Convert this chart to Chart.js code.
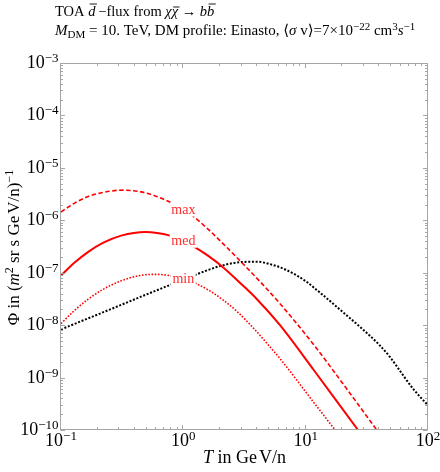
<!DOCTYPE html>
<html>
<head>
<meta charset="utf-8">
<script src="https://cdn.jsdelivr.net/npm/chart.js@4/dist/chart.umd.min.js"></script>
<style>
  body { margin: 0; background: #fff; }
  canvas { display: block; }
</style>
</head>
<body>
<canvas id="chart" width="440" height="472"></canvas>
<script>
    // kinetic energy per nucleon (GeV/n) and flux values
    const tMax = [0.1, 0.13, 0.167, 0.22, 0.32, 0.45, 0.59, 0.78, 1.0, 1.21, 1.6, 2.12, 2.9, 3.98, 6.17, 11.6, 21.7, 38.1, 60];
    const fluxMax = [1.44e-6, 2.15e-6, 2.85e-6, 3.39e-6, 3.76e-6, 3.48e-6, 2.92e-6, 2.2e-6, 1.6e-6, 1.18e-6, 6.7e-7, 3.55e-7, 1.7e-7, 7.9e-8, 2.57e-8, 4.27e-9, 6.05e-10, 1.0e-10, 2.3e-11];

    const tMed = [0.1, 0.13, 0.167, 0.22, 0.31, 0.49, 0.78, 1.0, 1.25, 1.6, 2.12, 2.9, 3.98, 6.17, 11.6, 26.8, 45];
    const fluxMed = [8.9e-8, 1.58e-7, 2.5e-7, 3.7e-7, 5.1e-7, 6.0e-7, 5.1e-7, 4.07e-7, 3.05e-7, 2.09e-7, 1.26e-7, 6.45e-8, 3.16e-8, 1.0e-8, 1.41e-9, 1.0e-10, 2.0e-11];

    const tMin = [0.1, 0.13, 0.167, 0.22, 0.31, 0.45, 0.59, 0.78, 1.0, 1.25, 1.6, 2.12, 2.73, 3.9, 4.9, 6.17, 11.6, 17.4, 30];
    const fluxMin = [1.07e-8, 1.94e-8, 3.13e-8, 4.79e-8, 7.0e-8, 8.9e-8, 9.3e-8, 8.8e-8, 7.7e-8, 6.3e-8, 4.7e-8, 3.0e-8, 1.85e-8, 7.9e-9, 4.3e-9, 2.3e-9, 3.4e-10, 1.0e-10, 1.9e-11];

    const tBkg = [0.1, 0.2, 0.5, 0.8, 1.135, 1.5, 2, 3, 4, 5, 7, 10, 12.3, 15, 20, 27.9, 40, 49, 62.7, 76, 100];
    const fluxBkg = [8.3e-9, 1.6e-8, 3.85e-8, 6.0e-8, 8.3e-8, 1.07e-7, 1.34e-7, 1.6e-7, 1.62e-7, 1.48e-7, 1.12e-7, 6.9e-8, 4.7e-8, 3.2e-8, 1.8e-8, 9.2e-9, 4.2e-9, 2.45e-9, 1.1e-9, 6.0e-10, 2.95e-10];

    const curveNames = ['max', 'med', 'min'];
    const labelT = 1;

    const xTickValues = [0.1, 1, 10, 100];
    const xTickExps = ['\u22121', '0', '1', '2'];
    const yTickValues = [1e-10, 1e-9, 1e-8, 1e-7, 1e-6, 1e-5, 1e-4, 1e-3];
    const yTickExps = ['\u221210', '\u22129', '\u22128', '\u22127', '\u22126', '\u22125', '\u22124', '\u22123'];

    const RED = '#ff0000';
    const SERIF = '"Liberation Serif", "DejaVu Serif", serif';

    function toPoints(xs, ys) {
      return xs.map((x, i) => ({ x: x, y: ys[i] }));
    }

    // draws a row of text pieces: {t, i (italic), s ('sup'|'sub'), o (overline height), g (gap before)}
    function drawRuns(ctx, runs, x, y, size, align) {
      const parts = runs.map(r => {
        const small = r.s === 'sup' || r.s === 'sub';
        const px = small ? Math.round(size * 0.7) : size;
        const font = (r.i ? 'italic ' : '') + px + 'px ' + SERIF;
        ctx.font = font;
        return {
          t: r.t, font: font, g: r.g || 0, o: r.o,
          w: ctx.measureText(r.t).width,
          dy: r.s === 'sup' ? -size * 0.33 : r.s === 'sub' ? size * 0.22 : 0
        };
      });
      const total = parts.reduce((s, p) => s + p.w + p.g, 0);
      let cx = align === 'center' ? x - total / 2 : align === 'right' ? x - total : x;
      ctx.textAlign = 'left';
      ctx.textBaseline = 'alphabetic';
      for (const p of parts) {
        cx += p.g;
        ctx.font = p.font;
        ctx.fillText(p.t, cx, y + p.dy);
        if (p.o) {
          ctx.save();
          ctx.lineWidth = 0.9;
          ctx.strokeStyle = ctx.fillStyle;
          ctx.beginPath();
          ctx.moveTo(cx + 1.5, y - p.o);
          ctx.lineTo(cx + p.w + 1.5, y - p.o);
          ctx.stroke();
          ctx.restore();
        }
        cx += p.w;
      }
      return total;
    }

    const whiteBackground = {
      id: 'whiteBackground',
      beforeDraw(chart) {
        const c = chart.ctx;
        c.save();
        c.fillStyle = '#fff';
        c.fillRect(0, 0, chart.width, chart.height);
        c.restore();
      }
    };

    // "max" / "med" / "min" written on the curves at T = 1
    const curveLabels = {
      id: 'curveLabels',
      afterDatasetsDraw(chart) {
        const c = chart.ctx;
        const xs = chart.scales.x, ys = chart.scales.y;
        c.save();
        c.font = '14px ' + SERIF;
        c.textAlign = 'center';
        c.textBaseline = 'middle';
        curveNames.forEach((name, i) => {
          const pts = chart.data.datasets[i].data;
          const pt = pts.find(p => p.x === labelT);
          const px = xs.getPixelForValue(pt.x);
          const py = ys.getPixelForValue(pt.y);
          const w = c.measureText(name).width;
          c.fillStyle = '#fff';
          c.fillRect(px - w / 2 - 1.5, py - 7, w + 3, 14);
          c.fillStyle = 'rgb(255,45,45)';
          c.fillText(name, px, py + 0.5);
        });
        c.restore();
      }
    };

    const frameAndText = {
      id: 'frameAndText',
      afterDraw(chart) {
        const c = chart.ctx;
        const a = chart.chartArea;
        const xs = chart.scales.x, ys = chart.scales.y;
        c.save();

        // frame
        c.strokeStyle = '#a6a6a6';
        c.lineWidth = 1;
        const L = Math.round(a.left) - 0.5, R = Math.round(a.right) - 0.5;
        const T = Math.round(a.top) + 0.5, B = Math.round(a.bottom) - 0.5;
        c.strokeRect(L, T, R - L, B - T);

        // ticks on all four sides, pointing inwards
        c.beginPath();
        for (let k = -1; k <= 2; k++) {
          for (let m = 1; m <= 9; m++) {
            const v = m * Math.pow(10, k);
            if (v > 100.0001) break;
            const px = Math.round(xs.getPixelForValue(v)) - 0.5;
            const len = m === 1 ? 4.5 : 2.5;
            c.moveTo(px, B); c.lineTo(px, B - len);
            c.moveTo(px, T); c.lineTo(px, T + len);
          }
        }
        for (let k = -10; k <= -3; k++) {
          for (let m = 1; m <= 9; m++) {
            const v = m * Math.pow(10, k);
            if (v > 1.0001e-3) break;
            const py = Math.round(ys.getPixelForValue(v)) + 0.5;
            const len = m === 1 ? 4.5 : 2.5;
            c.moveTo(L, py); c.lineTo(L + len, py);
            c.moveTo(R, py); c.lineTo(R - len, py);
          }
        }
        c.stroke();

        // tick labels
        c.fillStyle = '#000';
        xTickValues.forEach((v, i) => {
          const px = xs.getPixelForValue(v);
          drawRuns(c, [{ t: '10' }, { t: xTickExps[i], s: 'sup' }], px, a.bottom + 15.5, 18, 'center');
        });
        yTickValues.forEach((v, i) => {
          const py = ys.getPixelForValue(v);
          drawRuns(c, [{ t: '10' }, { t: yTickExps[i], s: 'sup' }], a.left - 2.5, py + 5, 18, 'right');
        });

        // axis titles
        drawRuns(c, [{ t: 'T', i: 1 }, { t: ' in Ge' }, { t: 'V/n', g: 2 }], (a.left + a.right) / 2, 463, 18, 'center');
        c.save();
        c.translate(18.5, (a.top + a.bottom) / 2 + 1);
        c.rotate(-Math.PI / 2);
        drawRuns(c, [{ t: '\u03a6 in (' }, { t: 'm', i: 1 }, { t: '2', s: 'sup' }, { t: ' sr s Ge' }, { t: 'V/n)', g: 2 }, { t: '\u22121', s: 'sup' }], 0, 0, 17, 'center');
        c.restore();

        // plot title, two lines
        drawRuns(c, [
          { t: 'TOA ' }, { t: 'd', i: 1, o: 12 }, { t: '\u2009\u2212flux from ' },
          { t: '\u03c7', i: 1 }, { t: '\u03c7', i: 1, o: 9 }, { t: ' \u2192 ' },
          { t: 'b', i: 1 }, { t: 'b', i: 1, o: 12 }
        ], 55, 16, 14.5, 'left');
        drawRuns(c, [
          { t: 'M', i: 1 }, { t: 'DM', s: 'sub' }, { t: ' = 10. TeV, DM profile: Einasto, \u27e8' },
          { t: '\u03c3', i: 1 }, { t: ' v\u27e9=7\u00d710' }, { t: '\u221222', s: 'sup' },
          { t: ' cm' }, { t: '3', s: 'sup' }, { t: 's', i: 1 }, { t: '\u22121', s: 'sup' }
        ], 55, 35, 15, 'left');

        c.restore();
      }
    };

    const ctx = document.getElementById('chart').getContext('2d');

    new Chart(ctx, {
      type: 'line',
      data: {
        datasets: [
          { label: 'max', data: toPoints(tMax, fluxMax), borderColor: RED, borderWidth: 1.6, borderDash: [4.5, 2.5], clip: 0 },
          { label: 'med', data: toPoints(tMed, fluxMed), borderColor: RED, borderWidth: 2, clip: 0 },
          { label: 'min', data: toPoints(tMin, fluxMin), borderColor: RED, borderWidth: 1.6, borderDash: [1.6, 1.6], clip: 0 },
          { label: 'background', data: toPoints(tBkg, fluxBkg), borderColor: '#000', borderWidth: 2, borderDash: [2, 1.7], clip: 0 }
        ]
      },
      options: {
        responsive: false,
        animation: false,
        devicePixelRatio: 1,
        layout: { padding: { left: 61, right: 12, top: 63, bottom: 42 } },
        elements: {
          point: { radius: 0 },
          line: { cubicInterpolationMode: 'monotone', fill: false }
        },
        scales: {
          x: { type: 'logarithmic', min: 0.1, max: 100, display: false },
          y: { type: 'logarithmic', min: 1e-10, max: 1e-3, display: false }
        },
        plugins: {
          legend: { display: false },
          tooltip: { enabled: false }
        }
      },
      plugins: [whiteBackground, curveLabels, frameAndText]
    });
</script>
</body>
</html>
